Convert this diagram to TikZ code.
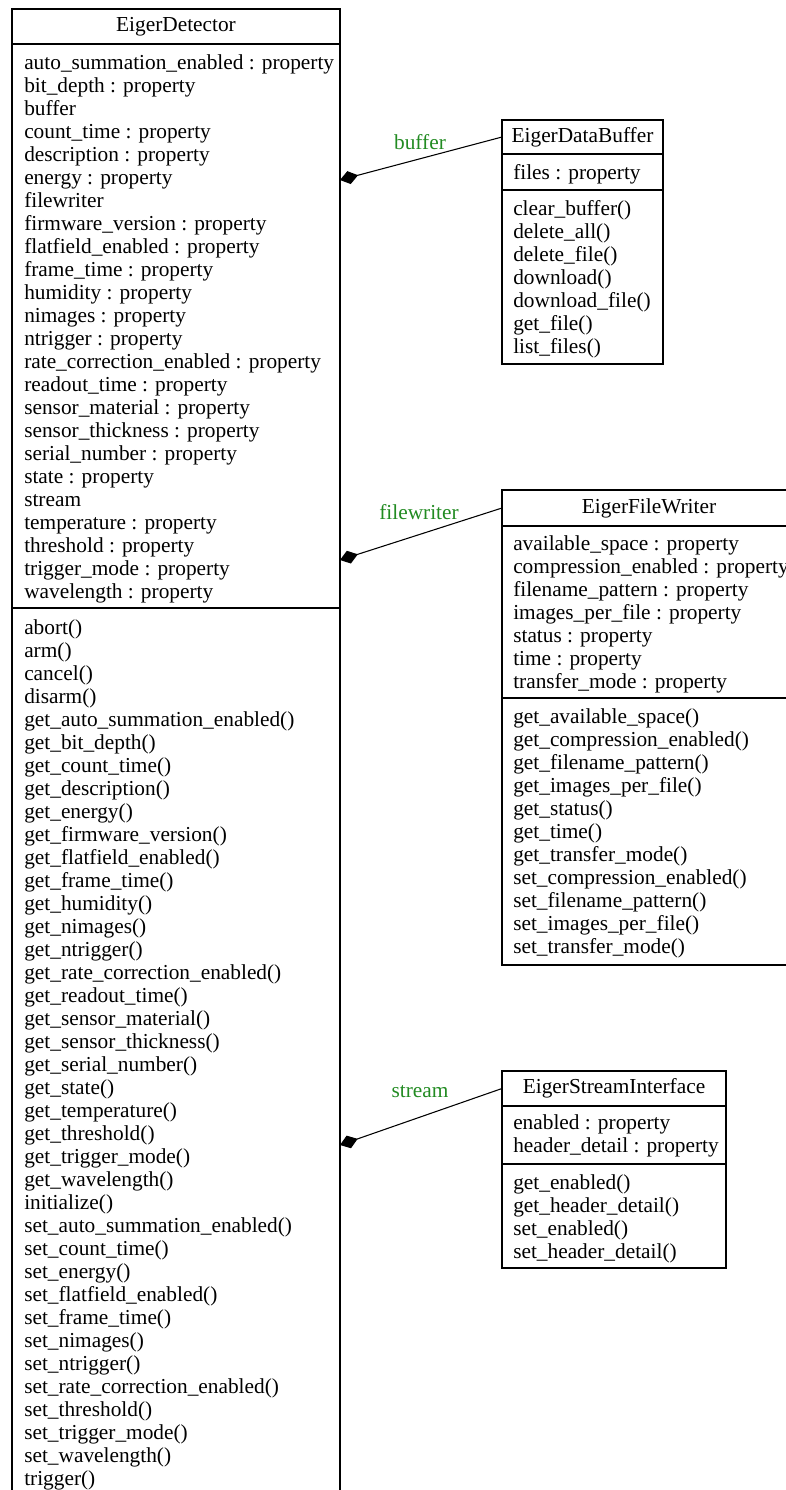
\documentclass[tikz,border=0pt]{standalone}
\usepackage{fontspec}
\setmainfont{Liberation Serif}
\usepackage{xcolor}
\usepackage{tikz}
\usetikzlibrary{positioning, arrows.meta}
\definecolor{labelgreen}{HTML}{228B22}
\newcommand{\umlfont}{\fontsize{16pt}{17.25pt}\selectfont}

\begin{document}
\begin{tikzpicture}[x=0.75pt, y=-0.75pt,
    classpart/.style={draw, line width=0.9pt, inner sep=0pt, outer sep=0pt, anchor=north west, font=\umlfont},
    members/.style={align=left, inner sep=0pt, font=\umlfont},
    rolelabel/.style={text=labelgreen, font=\umlfont},
    composition/.style={line width=0.8pt, {Diamond[length=14pt, width=10pt]}-}]
  \useasboundingbox (0,0) rectangle (786,1490);

  % EigerDetector
  \node[classpart, minimum width=246pt, minimum height=26.25pt] (dettitle) at (12,9) {EigerDetector};
  \node[classpart, minimum width=246pt, minimum height=423pt, below=0pt of dettitle] (detattrs) {};
  \node[classpart, minimum width=246pt, minimum height=669pt, below=0pt of detattrs] (detmethods) {};
  \node[members, below right=8pt and 9pt of detattrs.north west] (detattrlist) {%
    auto\_summation\_enabled : property\\ bit\_depth : property\\ buffer\\
    count\_time : property\\ description : property\\ energy : property\\ filewriter\\
    firmware\_version : property\\ flatfield\_enabled : property\\ frame\_time : property\\
    humidity : property\\ nimages : property\\ ntrigger : property\\
    rate\_correction\_enabled : property\\ readout\_time : property\\
    sensor\_material : property\\ sensor\_thickness : property\\ serial\_number : property\\
    state : property\\ stream\\ temperature : property\\ threshold : property\\
    trigger\_mode : property\\ wavelength : property};
  \node[members, below right=8.5pt and 9pt of detmethods.north west] (detmethodlist) {%
    abort()\\ arm()\\ cancel()\\ disarm()\\ get\_auto\_summation\_enabled()\\
    get\_bit\_depth()\\ get\_count\_time()\\ get\_description()\\ get\_energy()\\
    get\_firmware\_version()\\ get\_flatfield\_enabled()\\ get\_frame\_time()\\
    get\_humidity()\\ get\_nimages()\\ get\_ntrigger()\\ get\_rate\_correction\_enabled()\\
    get\_readout\_time()\\ get\_sensor\_material()\\ get\_sensor\_thickness()\\
    get\_serial\_number()\\ get\_state()\\ get\_temperature()\\ get\_threshold()\\
    get\_trigger\_mode()\\ get\_wavelength()\\ initialize()\\
    set\_auto\_summation\_enabled()\\ set\_count\_time()\\ set\_energy()\\
    set\_flatfield\_enabled()\\ set\_frame\_time()\\ set\_nimages()\\ set\_ntrigger()\\
    set\_rate\_correction\_enabled()\\ set\_threshold()\\ set\_trigger\_mode()\\
    set\_wavelength()\\ trigger()};

  % EigerDataBuffer
  \node[classpart, minimum width=120.75pt, minimum height=25.5pt] (buftitle) at (502,120) {EigerDataBuffer};
  \node[classpart, minimum width=120.75pt, minimum height=27pt, below=0pt of buftitle] (bufattrs) {};
  \node[classpart, minimum width=120.75pt, minimum height=130.5pt, below=0pt of bufattrs] (bufmethods) {};
  \node[members, below right=7.5pt and 8.25pt of bufattrs.north west] (bufattrlist) {files : property};
  \node[members, below right=7.5pt and 8.25pt of bufmethods.north west] (bufmethodlist) {%
    clear\_buffer()\\ delete\_all()\\ delete\_file()\\ download()\\ download\_file()\\
    get\_file()\\ list\_files()};

  % EigerFileWriter
  \node[classpart, minimum width=220.5pt, minimum height=27pt] (fwtitle) at (502,490) {EigerFileWriter};
  \node[classpart, minimum width=220.5pt, minimum height=129pt, below=0pt of fwtitle] (fwattrs) {};
  \node[classpart, minimum width=220.5pt, minimum height=200.25pt, below=0pt of fwattrs] (fwmethods) {};
  \node[members, below right=7pt and 8.25pt of fwattrs.north west] (fwattrlist) {%
    available\_space : property\\ compression\_enabled : property\\
    filename\_pattern : property\\ images\_per\_file : property\\ status : property\\
    time : property\\ transfer\_mode : property};
  \node[members, below right=7.5pt and 8.25pt of fwmethods.north west] (fwmethodlist) {%
    get\_available\_space()\\ get\_compression\_enabled()\\ get\_filename\_pattern()\\
    get\_images\_per\_file()\\ get\_status()\\ get\_time()\\ get\_transfer\_mode()\\
    set\_compression\_enabled()\\ set\_filename\_pattern()\\ set\_images\_per\_file()\\
    set\_transfer\_mode()};

  % EigerStreamInterface
  \node[classpart, minimum width=168pt, minimum height=26.25pt] (sttitle) at (502,1071) {EigerStreamInterface};
  \node[classpart, minimum width=168pt, minimum height=43.5pt, below=0pt of sttitle] (stattrs) {};
  \node[classpart, minimum width=168pt, minimum height=78pt, below=0pt of stattrs] (stmethods) {};
  \node[members, below right=6.5pt and 8.25pt of stattrs.north west] (stattrlist) {%
    enabled : property\\ header\_detail : property};
  \node[members, below right=7.5pt and 8.25pt of stmethods.north west] (stmethodlist) {%
    get\_enabled()\\ get\_header\_detail()\\ set\_enabled()\\ set\_header\_detail()};

  % compositions
  \coordinate (bufferhook) at (340,180);
  \coordinate (writerhook) at (340,560);
  \coordinate (streamhook) at (340,1145);
  \draw[composition] (bufferhook) -- (buftitle.west);
  \draw[composition] (writerhook) -- (fwtitle.west);
  \draw[composition] (streamhook) -- (sttitle.west);
  \node[rolelabel] (bufferrole) at (420,142) {buffer};
  \node[rolelabel] (writerrole) at (419,512) {filewriter};
  \node[rolelabel] (streamrole) at (420,1092) {stream};
\end{tikzpicture}
\end{document}
